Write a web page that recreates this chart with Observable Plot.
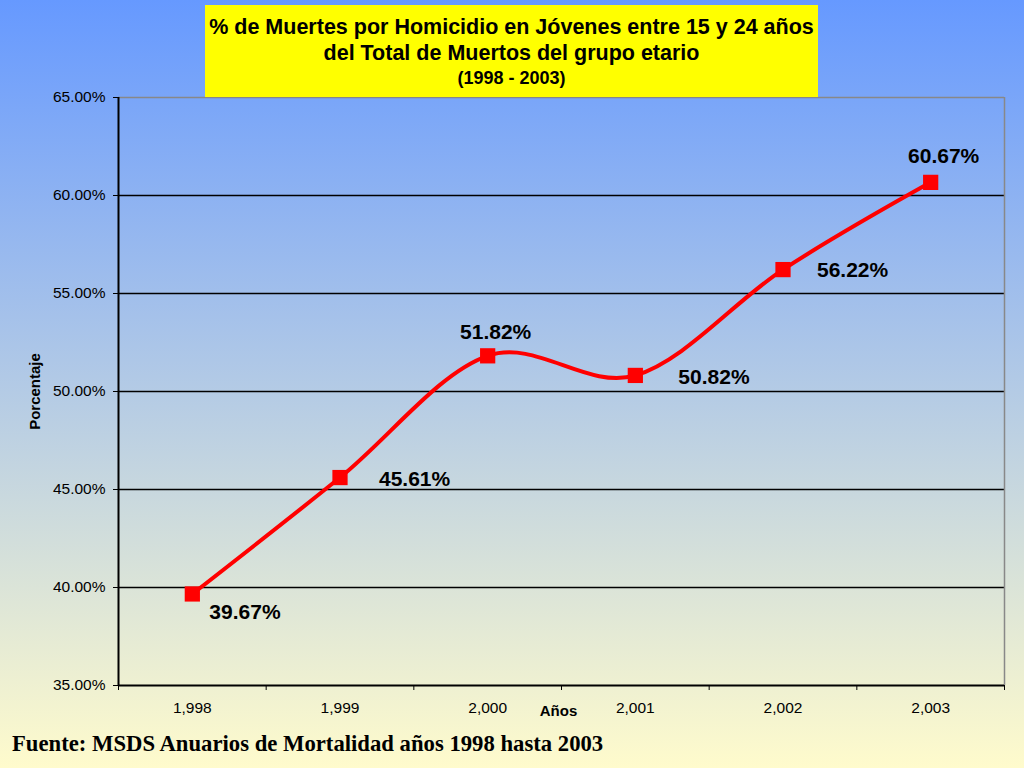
<!DOCTYPE html>
<html>
<head>
<meta charset="utf-8">
<script src="https://cdn.jsdelivr.net/npm/d3@7"></script>
<script src="https://cdn.jsdelivr.net/npm/@observablehq/plot@0.6"></script>
<style>
  html, body { margin: 0; padding: 0; }
  #page {
    position: relative; width: 1024px; height: 768px; overflow: hidden;
    background: linear-gradient(to bottom, #6699ff 0%, #fffbcc 100%);
    font-family: "Liberation Sans", Arial, Helvetica, sans-serif;
  }
  #title {
    position: absolute; left: 205px; top: 5px; width: 613px; height: 92px;
    background: #ffff00; text-align: center; font-weight: bold; color: #000;
    box-sizing: border-box; padding-top: 9px;
  }
  #title .l1 { font-size: 21.5px; line-height: 26px; white-space: nowrap; }
  #title .l3 { font-size: 18px; line-height: 24px; }
  #chart { position: absolute; left: 0; top: 0; }
  #source {
    position: absolute; left: 12px; top: 731px;
    font-family: "Liberation Serif", "Times New Roman", serif;
    font-weight: bold; font-size: 22.7px; color: #000; white-space: nowrap;
  }
</style>
</head>
<body>
<div id="page">
  <div id="chart"></div>
  <div id="title">
    <div class="l1">% de Muertes por Homicidio en Jóvenes entre 15 y 24 años</div>
    <div class="l1">del Total de Muertos del grupo etario</div>
    <div class="l3">(1998 - 2003)</div>
  </div>
  <div id="source">Fuente: MSDS Anuarios de Mortalidad años 1998 hasta 2003</div>
</div>
<script>
// ---- Data ----
const years = [1998, 1999, 2000, 2001, 2002, 2003];
const percentages = [39.67, 45.61, 51.82, 50.82, 56.22, 60.67];
const yTicks = [35, 40, 45, 50, 55, 60, 65];

const data = years.map((y, i) => ({year: y, value: percentages[i]}));

// label placement (dx, dy, anchor) per point, in drawing order
const labelOffsets = [[17, 18, "start"], [39, 2, "start"], [8, -24, "middle"], [43, 2, "start"], [34, 1, "start"], [13, -26, "middle"]];

const fmtYear = d3.format(",");
const fmtPct = d => d.toFixed(2) + "%";

const boundaries = d3.range(years[0] - 0.5, years[years.length - 1] + 1, 1);

const labelMarks = data.map((d, i) => Plot.text([d], {
  x: "year", y: "value", text: d => fmtPct(d.value),
  dx: labelOffsets[i][0], dy: labelOffsets[i][1], textAnchor: labelOffsets[i][2],
  fontSize: 21, fontWeight: "bold", fill: "#000"
}));

const chart = Plot.plot({
  width: 1024,
  height: 730,
  marginLeft: 118,
  marginRight: 20,
  marginTop: 97,
  marginBottom: 45,
  style: {background: "transparent", fontFamily: "'Liberation Sans', Arial, sans-serif", color: "#000"},
  x: {type: "linear", domain: [years[0] - 0.5, years[years.length - 1] + 0.5], axis: null},
  y: {domain: [35, 65], axis: null},
  marks: [
    // gridlines
    Plot.ruleY(yTicks.filter(t => t > 35 && t < 65), {stroke: "#000", strokeWidth: 1.3}),
    // top & right border
    Plot.ruleY([65], {stroke: "#888", strokeWidth: 1.5}),
    Plot.ruleX([years[years.length - 1] + 0.5], {stroke: "#888", strokeWidth: 1.5}),
    // axes
    Plot.axisY({ticks: yTicks, tickFormat: d => d.toFixed(2) + "%", tickSize: 5, tickPadding: 8, fontSize: 15.5, label: null, stroke: "#000"}),
    Plot.ruleX([years[0] - 0.5], {stroke: "#000", strokeWidth: 2}),
    Plot.ruleY([35], {stroke: "#000", strokeWidth: 2}),
    Plot.axisX({ticks: boundaries, tickFormat: () => "", tickSize: 5, label: null, stroke: "#000"}),
    Plot.axisX({ticks: years, tickFormat: fmtYear, tickSize: 0, tickPadding: 16, fontSize: 15.5, label: null}),
    Plot.text(["Años"], {frameAnchor: "bottom", dy: 30, dx: -3, fontSize: 15, fontWeight: "bold"}),
    Plot.text(["Porcentaje"], {frameAnchor: "left", dx: -83, dy: 0, rotate: -90, textAnchor: "middle", fontSize: 15, fontWeight: "bold"}),
    // series
    Plot.line(data, {x: "year", y: "value", curve: "cardinal", stroke: "#ff0000", strokeWidth: 4}),
    Plot.dot(data, {x: "year", y: "value", symbol: "square", r: 8.6, fill: "#ff0000", stroke: "none"}),
    ...labelMarks
  ]
});
document.getElementById("chart").appendChild(chart);
</script>
</body>
</html>
